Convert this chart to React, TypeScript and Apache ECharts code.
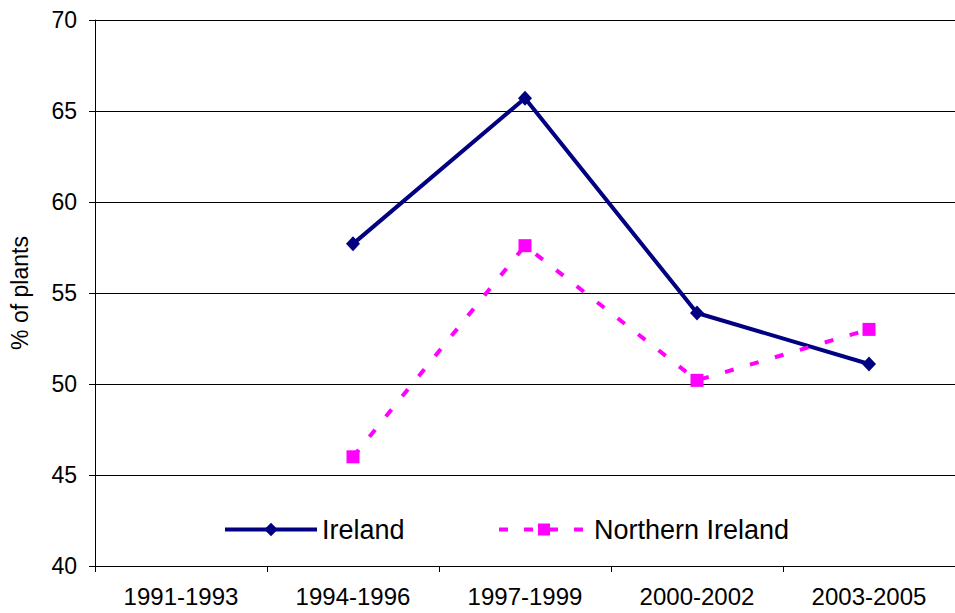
import React, { useEffect, useRef } from "react";
import * as echarts from "echarts";

const categories = ["1991-1993", "1994-1996", "1997-1999", "2000-2002", "2003-2005"];
const irelandValues: (number | null)[] = [null, 57.7, 65.7, 53.9, 51.1];
const northernIrelandValues: (number | null)[] = [null, 46.0, 57.6, 50.2, 53.0];
const yTicks = { min: 40, max: 70, interval: 5 };
const yAxisTitle = "% of plants";

const FONT = "'Liberation Sans', Arial, sans-serif";

export default function App() {
  const ref = useRef<HTMLDivElement>(null);
  useEffect(() => {
    if (!ref.current) return;
    const chart = echarts.init(ref.current, undefined, { renderer: "svg" });
    chart.setOption({
      animation: false,
      backgroundColor: "#ffffff",
      textStyle: { fontFamily: FONT },
      grid: { left: 95, top: 20, width: 865, height: 546 },
      legend: [
        {
          data: ["Ireland"],
          left: 223,
          top: 516,
          padding: 0,
          itemWidth: 92,
          itemHeight: 17,
          itemGap: 0,
          lineStyle: { width: 4, color: "#000080" },
          textStyle: { fontFamily: FONT, fontSize: 27, color: "#000" },
        },
        {
          data: ["Northern Ireland"],
          left: 497,
          top: 516,
          padding: 0,
          itemWidth: 90,
          itemHeight: 15,
          itemGap: 0,
          lineStyle: { width: 4, color: "#ff00ff", type: [9, 16] },
          textStyle: { fontFamily: FONT, fontSize: 27, color: "#000" },
        },
      ],
      xAxis: {
        type: "category",
        data: categories,
        boundaryGap: true,
        axisLine: { show: true, lineStyle: { color: "#000", width: 1 } },
        axisTick: { show: true, length: 6, lineStyle: { color: "#000" } },
        axisLabel: { color: "#000", fontSize: 24, fontFamily: FONT, margin: 18 },
        splitLine: { show: false },
      },
      yAxis: {
        type: "value",
        min: yTicks.min,
        max: yTicks.max,
        interval: yTicks.interval,
        name: yAxisTitle,
        nameLocation: "middle",
        nameGap: 64,
        nameTextStyle: { color: "#000", fontSize: 23, fontFamily: FONT },
        axisLine: { show: true, lineStyle: { color: "#000", width: 1 } },
        axisTick: { show: true, length: 6, lineStyle: { color: "#000" } },
        axisLabel: { color: "#000", fontSize: 23, fontFamily: FONT, margin: 18 },
        splitLine: { show: true, lineStyle: { color: "#000", width: 1 } },
      },
      series: [
        {
          name: "Ireland",
          type: "line",
          data: irelandValues,
          symbol: "diamond",
          symbolSize: [14, 15],
          connectNulls: false,
          lineStyle: { color: "#000080", width: 4 },
          itemStyle: { color: "#000080" },
        },
        {
          name: "Northern Ireland",
          type: "line",
          data: northernIrelandValues,
          symbol: "rect",
          symbolSize: 13,
          connectNulls: false,
          lineStyle: { color: "#ff00ff", width: 4, type: [9, 17] },
          itemStyle: { color: "#ff00ff" },
        },
      ],
    });
    return () => chart.dispose();
  }, []);
  return (
    <div
      ref={ref}
      style={{ position: "fixed", left: 0, top: 0, width: 955, height: 613 }}
    />
  );
}
